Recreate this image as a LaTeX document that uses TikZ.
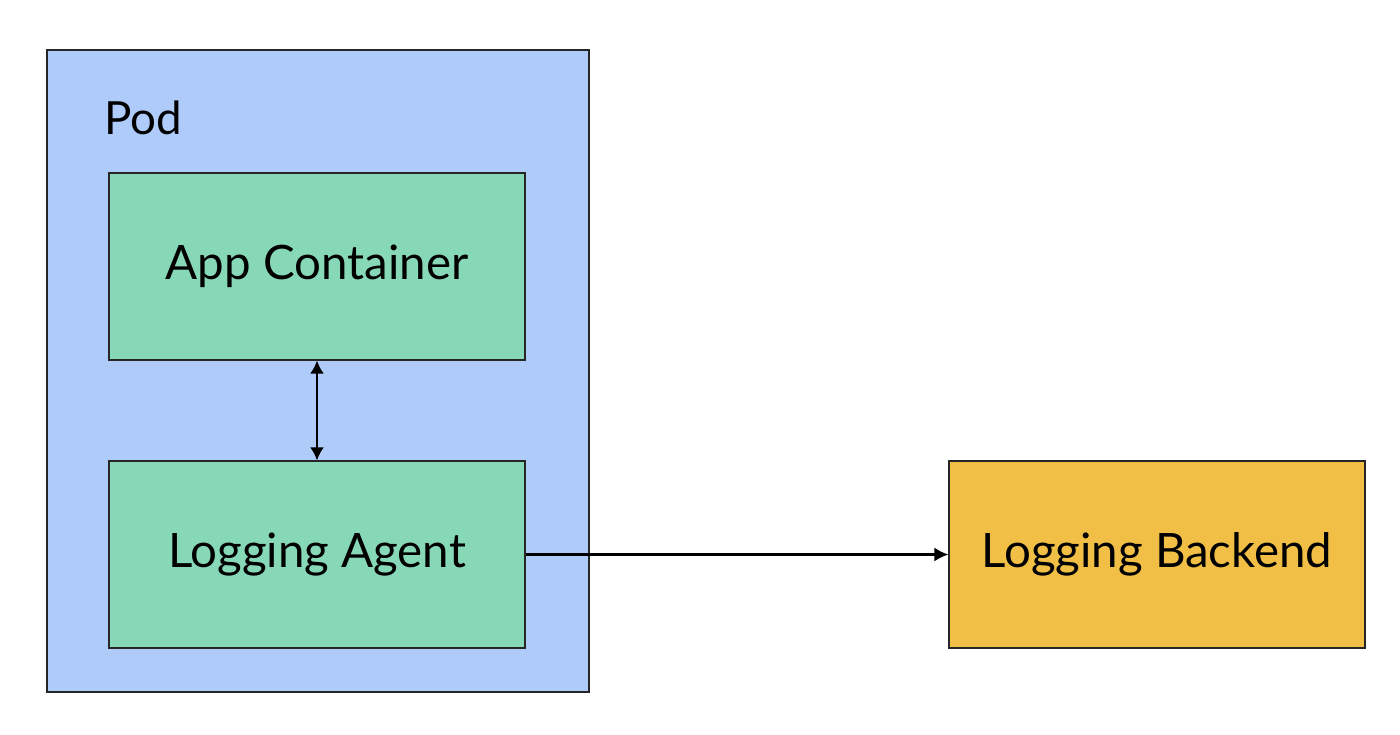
\documentclass[tikz,border=0pt]{standalone}
\usepackage{fontspec}
\setmainfont{Lato}
\usetikzlibrary{arrows.meta, positioning}
\definecolor{podblue}{HTML}{AECBFA}
\definecolor{boxgreen}{HTML}{87D8B7}
\definecolor{backyellow}{HTML}{F1BF45}

\begin{document}
\begin{tikzpicture}[b/.style={rectangle,draw=black!85,line width=0.6pt,minimum width=8.32cm,minimum height=3.74cm,font=\fontsize{27}{30}\selectfont},
  conn/.style={line width=1.4pt,-{Latex[length=2.8mm,width=2.8mm]}}]
      \useasboundingbox (0,0) rectangle (28,-14.68);
      \node[rectangle, draw=black!85, line width=0.6pt, minimum width=10.84cm, minimum height=12.84cm, fill=podblue] (pod) at (6.36,-7.42) {};
      \node[font=\fontsize{26}{30}\selectfont] (podlabel) at (2.86,-2.36) {Pod};
      \node[b, fill=boxgreen] (app) at (6.34,-5.33) {App Container};
      \node[b, fill=boxgreen] (agent) at (6.34,-11.09) {Logging Agent};
      \node[b, fill=backyellow] (backend) at (23.14,-11.09) {Logging Backend};
      \draw[conn, {Latex[length=2.6mm,width=2.8mm]}-{Latex[length=2.6mm,width=2.8mm]}] (app) -- (agent);
      \draw[conn] (agent) -- (backend);
    \end{tikzpicture}
\end{document}
